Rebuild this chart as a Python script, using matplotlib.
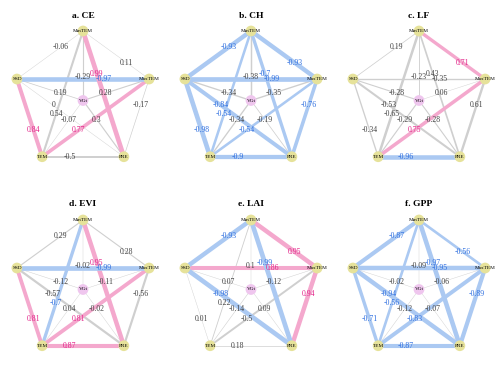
import matplotlib
matplotlib.use("Agg")
import matplotlib.pyplot as plt
import numpy as np

# node order around the pentagon, VGt sits in the middle
outer_nodes = ["MinTEM", "MaxTEM", "PRE", "TEM", "SSD"]
center_node = "VGt"

# edges; the label sits closer to the first node of each pair
edges = [
    ("MinTEM", "SSD"), ("MaxTEM", "MinTEM"), ("VGt", "MinTEM"), ("MinTEM", "PRE"),
    ("MaxTEM", "SSD"), ("VGt", "MaxTEM"), ("VGt", "SSD"), ("SSD", "PRE"),
    ("TEM", "MinTEM"), ("MaxTEM", "PRE"), ("VGt", "TEM"), ("VGt", "PRE"),
    ("TEM", "MaxTEM"), ("TEM", "SSD"), ("TEM", "PRE"),
]

titles = ["a. CE", "b. CH", "c. LF", "d. EVI", "e. LAI", "f. GPP"]

r_ce = [-0.06, 0.11, -0.29, 0.99, -0.97, 0.28, 0.19, 0, 0.54, -0.17, -0.07, 0.3, 0.77, 0.84, -0.5]
r_ch = [-0.93, -0.93, -0.38, -0.7, -0.99, -0.35, -0.34, -0.84, -0.54, -0.76, -0.34, -0.19, -0.54, -0.98, -0.9]
r_lf = [0.19, 0.71, -0.23, 0.43, -0.35, 0.06, -0.28, -0.53, -0.65, 0.61, -0.29, -0.28, 0.75, -0.34, -0.96]
r_evi = [0.29, 0.28, -0.02, 0.95, -0.99, -0.11, -0.12, -0.57, -0.7, -0.56, 0.04, -0.02, 0.81, 0.81, 0.87]
r_lai = [-0.93, 0.95, 0.1, -0.99, 0.86, -0.12, 0.07, -0.98, 0.22, 0.94, -0.14, 0.09, -0.5, 0.01, 0.18]
r_gpp = [-0.87, -0.56, -0.09, -0.97, -0.95, -0.06, -0.02, -0.94, -0.56, -0.89, -0.12, -0.07, -0.83, -0.71, -0.87]

sig_ce = [0, 0, 0, 1, 1, 0, 0, 0, 0, 0, 0, 0, 1, 1, 0]
sig_ch = [1, 1, 0, 1, 1, 0, 0, 1, 1, 1, 0, 0, 1, 1, 1]
sig_lf = [0, 1, 0, 0, 0, 0, 0, 0, 0, 0, 0, 0, 1, 0, 1]
sig_evi = [0, 0, 0, 1, 1, 0, 0, 0, 1, 0, 0, 0, 1, 1, 1]
sig_lai = [1, 1, 0, 1, 1, 0, 0, 1, 0, 1, 0, 0, 0, 0, 0]
sig_gpp = [1, 1, 0, 1, 1, 0, 0, 1, 1, 1, 0, 0, 1, 1, 1]

panels = [
    (r_ce, sig_ce), (r_ch, sig_ch), (r_lf, sig_lf),
    (r_evi, sig_evi), (r_lai, sig_lai), (r_gpp, sig_gpp),
]

POS_LINE, NEG_LINE, NS_LINE = "#f4a8cd", "#abc9f2", "#cfcfcf"
POS_TXT, NEG_TXT, NS_TXT = "#e3268a", "#2f6fe0", "#444444"
SERIF = ["Liberation Serif", "DejaVu Serif"]

# regular pentagon layout in panel pixel units (168 x 189)
cx, cy, rad = 83.0, 100.5, 69.5
angles = np.deg2rad([90, 18, -54, -126, 162])
pos = {n: (cx + rad * np.cos(a), cy - rad * np.sin(a)) for n, a in zip(outer_nodes, angles)}
pos[center_node] = (cx, cy)

W, H = 504, 378
fig = plt.figure(figsize=(W / 100, H / 100), dpi=100)

for k, (title, (rvals, sig)) in enumerate(zip(titles, panels)):
    row, col = divmod(k, 3)
    ax = fig.add_axes([col * 168 / W, 1 - (row + 1) * 189 / H, 168 / W, 189 / H])
    ax.set_xlim(0, 168)
    ax.set_ylim(189, 0)
    ax.axis("off")

    order = np.argsort(np.abs(rvals))
    for i in order:
        a, b = edges[i]
        r, s = rvals[i], sig[i]
        if s:
            lc = POS_LINE if r > 0 else NEG_LINE
            lw = 3.4 * abs(r)
        else:
            lc = NS_LINE
            lw = max(0.3, 2.8 * abs(r))
        (x0, y0), (x1, y1) = pos[a], pos[b]
        ax.plot([x0, x1], [y0, y1], color=lc, lw=lw,
                solid_capstyle="butt", zorder=1 + abs(r))

    for i in range(len(edges)):
        a, b = edges[i]
        r, s = rvals[i], sig[i]
        tc = (POS_TXT if r > 0 else NEG_TXT) if s else NS_TXT
        (x0, y0), (x1, y1) = pos[a], pos[b]
        t = 0.34
        ax.text(x0 + t * (x1 - x0), y0 + t * (y1 - y0), f"{r:g}", color=tc,
                fontsize=5.6, family=SERIF, ha="center", va="center", zorder=10)

    for n in outer_nodes:
        ax.scatter(*pos[n], s=60, color="#e6e29a", edgecolor="none", zorder=5)
        ax.text(*pos[n], n, fontsize=3.8, family=SERIF, ha="center", va="center", zorder=6)
    ax.scatter(*pos[center_node], s=60, color="#efc6ee", edgecolor="none", zorder=5)
    ax.text(*pos[center_node], center_node, fontsize=3.8, family=SERIF,
            ha="center", va="center", zorder=6)

    ax.text(83, 15.5, title, fontsize=6.8, family=SERIF, fontweight="bold",
            ha="center", va="center")

fig.savefig("out.png", dpi=100)
